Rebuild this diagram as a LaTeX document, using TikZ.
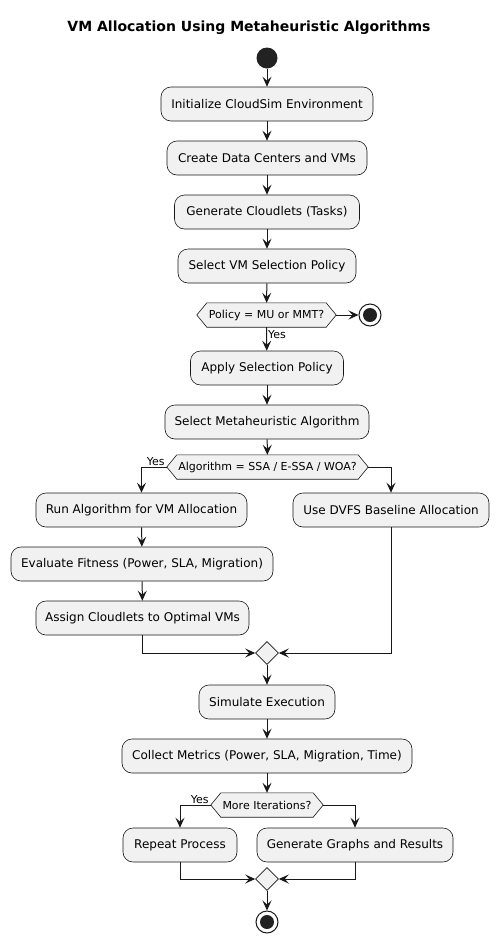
\documentclass[tikz,border=0pt]{standalone}
\usepackage{fontspec}
\setmainfont{DejaVu Sans}
\usetikzlibrary{shapes.geometric,arrows.meta,backgrounds}
\definecolor{boxfill}{HTML}{F1F1F1}
\definecolor{linec}{HTML}{181818}
\definecolor{dotc}{HTML}{222222}
\tikzset{
  x=1pt, y=-1pt,
  actbox/.style={draw=linec, line width=0.6pt, fill=boxfill, rounded corners=10pt,
    minimum height=34pt, inner sep=0pt, font=\fontsize{12}{14}\selectfont, text=black},
  decnode/.style={minimum height=24pt, inner sep=0pt, font=\fontsize{11}{13}\selectfont, text=black},
  hexa/.style={draw=linec, line width=0.6pt, fill=boxfill},
  merge/.style={diamond, draw=linec, line width=0.6pt, fill=boxfill, minimum width=23pt, minimum height=23pt, inner sep=0pt},
  flow/.style={draw=linec, line width=1pt, -{Stealth[length=10pt,width=9pt,inset=4pt]}},
  lbl/.style={font=\fontsize{11}{13}\selectfont, text=black, inner sep=1pt},
  startdot/.style={circle, fill=dotc, minimum size=21pt, inner sep=0pt},
  stopring/.style={circle, draw=linec, line width=1pt, fill=white, minimum size=22pt, inner sep=0pt,
    path picture={\fill[dotc] (path picture bounding box.center) circle (7pt);}},
}
\newcommand{\hexdraw}[1]{%
  \path[hexa] (#1.west) -- ([xshift=10pt]#1.north west) -- ([xshift=-10pt]#1.north east)
    -- (#1.east) -- ([xshift=-10pt]#1.south east) -- ([xshift=10pt]#1.south west) -- cycle;}
\begin{document}
\begin{tikzpicture}
\useasboundingbox (0,0) rectangle (499,943);

\node[font=\bfseries\fontsize{14}{17}\selectfont] (title) at (249,28) {VM Allocation Using Metaheuristic Algorithms};

\node[startdot] (start) at (267,58) {};
\node[actbox, minimum width=212pt] (init) at (267,104) {Initialize CloudSim Environment};
\node[actbox, minimum width=200pt] (create) at (267,158) {Create Data Centers and VMs};
\node[actbox, minimum width=185pt] (gen) at (267,212) {Generate Cloudlets (Tasks)};
\node[actbox, minimum width=178pt] (sel) at (267,266) {Select VM Selection Policy};
\node[decnode, minimum width=139pt] (d1) at (266.5,315) {Policy = MU or MMT?};
\node[stopring] (stop1) at (370,315) {};
\node[actbox, minimum width=153pt] (apply) at (267,368) {Apply Selection Policy};
\node[actbox, minimum width=204pt] (selm) at (267,422) {Select Metaheuristic Algorithm};
\node[decnode, minimum width=201pt] (d2) at (267.5,467) {Algorithm = SSA / E-SSA / WOA?};
\node[actbox, minimum width=211pt] (run) at (141.5,510) {Run Algorithm for VM Allocation};
\node[actbox, minimum width=196pt] (dvfs) at (391,510) {Use DVFS Baseline Allocation};
\node[actbox, minimum width=262pt] (eval) at (142,564) {Evaluate Fitness (Power, SLA, Migration)};
\node[actbox, minimum width=213pt] (assign) at (142.5,618) {Assign Cloudlets to Optimal VMs};
\node[merge] (m1) at (267,653) {};
\node[actbox, minimum width=136pt] (sim) at (267,702) {Simulate Execution};
\node[actbox, minimum width=290pt] (coll) at (267,756) {Collect Metrics (Power, SLA, Migration, Time)};
\node[decnode, minimum width=112pt] (d3) at (267,805) {More Iterations?};
\node[actbox, minimum width=114pt] (rep) at (180,845) {Repeat Process};
\node[actbox, minimum width=196pt] (graph) at (355,845) {Generate Graphs and Results};
\node[merge] (m2) at (267,879) {};
\node[stopring] (stop2) at (267,922) {};

\begin{scope}[on background layer]
  \fill[white] (0,0) rectangle (499,943);
  \hexdraw{d1}
  \hexdraw{d2}
  \hexdraw{d3}
\end{scope}

\draw[flow] (start) -- (init);
\draw[flow] (init) -- (create);
\draw[flow] (create) -- (gen);
\draw[flow] (gen) -- (sel);
\draw[flow] (sel) -- (d1);
\draw[flow] (d1.east) -- (stop1);
\draw[flow] (d1.south) -- node[lbl, pos=0.3, anchor=west] {Yes} (apply);
\draw[flow] (apply) -- (selm);
\draw[flow] (selm) -- (d2);
\draw[flow] (d2.west) -| (run.north);
\node[lbl, anchor=south east] (y2) at ([xshift=-1pt]d2.west) {Yes};
\draw[flow] (d2.east) -| (dvfs.north);
\draw[flow] (run) -- (eval);
\draw[flow] (eval) -- (assign);
\draw[flow] (assign.south) |- (m1.west);
\draw[flow] (dvfs.south) |- (m1.east);
\draw[flow] (m1) -- (sim);
\draw[flow] (sim) -- (coll);
\draw[flow] (coll) -- (d3);
\draw[flow] (d3.west) -| (rep.north);
\node[lbl, anchor=south east] (y3) at ([xshift=-1pt]d3.west) {Yes};
\draw[flow] (d3.east) -| (graph.north);
\draw[flow] (rep.south) |- (m2.west);
\draw[flow] (graph.south) |- (m2.east);
\draw[flow] (m2) -- (stop2);
\end{tikzpicture}
\end{document}
